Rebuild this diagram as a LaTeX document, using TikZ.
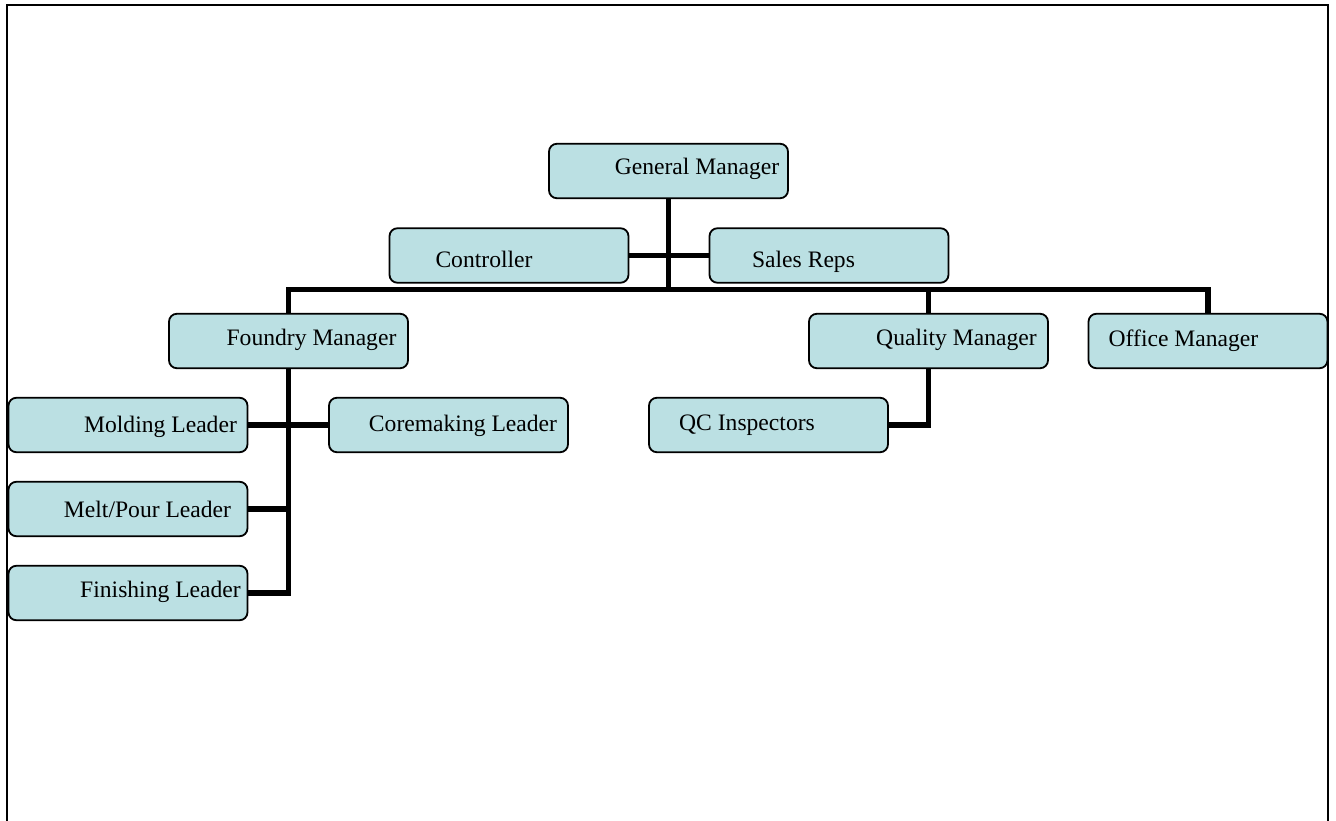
\documentclass[tikz,border=0pt]{standalone}
\usepackage{fontspec}
\setmainfont{Liberation Serif}
\definecolor{boxfill}{HTML}{BBE0E3}
\begin{document}
\begin{tikzpicture}[x=1pt,y=-1pt,
  box/.style={draw=black,line width=1.8pt,fill=boxfill,rounded corners=8pt,
    minimum width=239pt,minimum height=54.5pt,inner sep=0pt},
  lbl/.style={anchor=base,inner sep=0pt,font=\fontsize{23.6}{28}\selectfont},
  conn/.style={draw=black,line width=5.5pt,line join=miter,line cap=rect},
  frame/.style={draw=black,line width=2.2pt}]
\useasboundingbox (0,0) rectangle (1336,821);
\draw[frame] (7,823) -- (7,5) -- (1328,5) -- (1328,823);
\coordinate (bus) at (668.5,289.5);
% anchor points of the boxes
\node[box,draw=none,fill=none] (gm) at (668.5,171) {};
\node[box,draw=none,fill=none] (ctrl) at (509,255.5) {};
\node[box,draw=none,fill=none] (sales) at (829,255.5) {};
\node[box,draw=none,fill=none] (fm) at (288.5,341) {};
\node[box,draw=none,fill=none] (qm) at (928.5,341) {};
\node[box,draw=none,fill=none] (om) at (1208,341) {};
\node[box,draw=none,fill=none] (mold) at (128,425) {};
\node[box,draw=none,fill=none] (core) at (448.5,425) {};
\node[box,draw=none,fill=none] (qc) at (768.5,425) {};
\node[box,draw=none,fill=none] (melt) at (128,509) {};
\node[box,draw=none,fill=none] (fin) at (128,593) {};
% connectors (under boxes)
\draw[conn] (gm.south) -- (gm.south |- bus);
\draw[conn] (ctrl.east) -- (sales.west);
\draw[conn] (fm.north) -- (fm.north |- bus) -- (om.north |- bus) -- (om.north);
\draw[conn] (qm.north |- bus) -- (qm.north);
\draw[conn] (fm.south) -- (fm.south |- fin.east) -- (fin.east);
\draw[conn] (mold.east) -- (core.west);
\draw[conn] (melt.east) -- (melt.east -| fm.south);
\draw[conn] (qm.south) -- (qm.south |- qc.east) -- (qc.east);
% boxes
\node[box] (gmB) at (gm) {};
\node[box] (ctrlB) at (ctrl) {};
\node[box] (salesB) at (sales) {};
\node[box] (fmB) at (fm) {};
\node[box] (qmB) at (qm) {};
\node[box] (omB) at (om) {};
\node[box] (moldB) at (mold) {};
\node[box] (coreB) at (core) {};
\node[box] (qcB) at (qc) {};
\node[box] (meltB) at (melt) {};
\node[box] (finB) at (fin) {};
% labels
\node[lbl] (gmT) at (697,175) {General Manager};
\node[lbl] (ctrlT) at (484,268) {Controller};
\node[lbl] (salesT) at (803.5,268) {Sales Reps};
\node[lbl] (fmT) at (311.5,345) {Foundry Manager};
\node[lbl] (qmT) at (956.5,345) {Quality Manager};
\node[lbl] (omT) at (1183.5,346) {Office Manager};
\node[lbl] (moldT) at (160.5,432) {Molding Leader};
\node[lbl] (coreT) at (463,431) {Coremaking Leader};
\node[lbl] (qcT) at (747,430) {QC Inspectors};
\node[lbl] (meltT) at (147.5,517) {Melt/Pour Leader};
\node[lbl] (finT) at (160.5,597) {Finishing Leader};
\end{tikzpicture}
\end{document}
